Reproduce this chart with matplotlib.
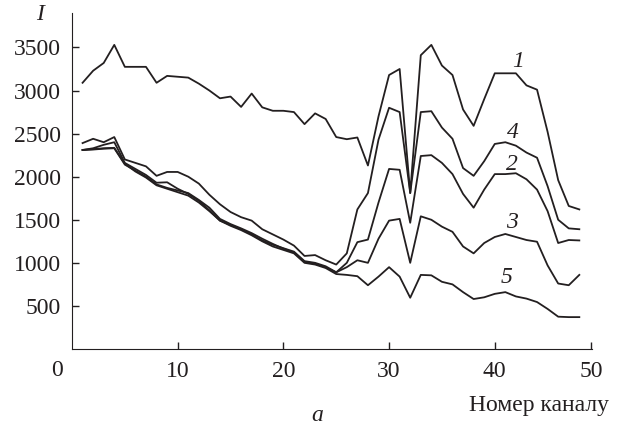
import numpy as np
import matplotlib.pyplot as plt

plt.rcParams['font.family'] = ['Liberation Serif', 'DejaVu Serif']

# номери каналів
channels = np.arange(1, 49)

# криві 1-5
curve1 = [3090, 3230, 3320, 3530, 3275, 3275, 3275, 3090, 3170, 3160,
          3150, 3080, 3000, 2910, 2930, 2810, 2965, 2805, 2765, 2765,
          2750, 2610, 2735, 2670, 2460, 2435, 2455, 2130, 2700, 3180,
          3250, 1810, 3410, 3530, 3290, 3180, 2780, 2590, 2900, 3200,
          3200, 3200, 3060, 3010, 2520, 1960, 1660, 1620]
curve4 = [2390, 2440, 2400, 2460, 2200, 2160, 2120, 2010, 2055, 2055,
          2000, 1920, 1790, 1680, 1590, 1530, 1490, 1390, 1330, 1270,
          1200, 1080, 1090, 1030, 980, 1110, 1620, 1810, 2430, 2800,
          2750, 1810, 2750, 2760, 2570, 2440, 2100, 2010, 2180, 2380,
          2400, 2360, 2280, 2220, 1890, 1500, 1400, 1390]
curve2 = [2310, 2330, 2370, 2400, 2160, 2090, 2020, 1930, 1935, 1860,
          1800, 1720, 1610, 1490, 1440, 1390, 1330, 1260, 1210, 1170,
          1130, 1020, 1000, 960, 890, 1000, 1240, 1270, 1700, 2090,
          2080, 1465, 2240, 2250, 2160, 2030, 1800, 1640, 1850, 2030,
          2030, 2040, 1970, 1850, 1600, 1230, 1265, 1260]
curve3 = [2310, 2315, 2325, 2330, 2140, 2070, 2000, 1910, 1870, 1840,
          1810, 1730, 1640, 1510, 1450, 1400, 1345, 1280, 1220, 1165,
          1120, 1010, 990, 950, 890, 950, 1030, 1000, 1280, 1490,
          1510, 1000, 1540, 1500, 1420, 1360, 1190, 1110, 1230, 1300,
          1335, 1300, 1265, 1245, 970, 760, 740, 860]
curve5 = [2310, 2320, 2330, 2335, 2150, 2060, 1990, 1900, 1860, 1820,
          1780, 1700, 1600, 1490, 1430, 1380, 1320, 1250, 1190, 1150,
          1110, 1000, 980, 940, 870, 860, 845, 740, 840, 950,
          840, 595, 860, 855, 780, 750, 660, 580, 600, 640,
          660, 610, 585, 545, 465, 375, 370, 370]

y_ticks = [500, 1000, 1500, 2000, 2500, 3000, 3500]
x_ticks = [10, 20, 30, 40, 49.1]
x_tick_labels = ['10', '20', '30', '40', '50']

fig = plt.figure(figsize=(6.25, 4.29), dpi=100)
ax = fig.add_axes([0.1152, 0.1865, 0.832, 0.7832])

ink = '#231f20'
for y in [curve1, curve4, curve2, curve3, curve5]:
    ax.plot(channels, y, color=ink, linewidth=1.3, solid_joinstyle='round')

ax.set_xlim(0, 49.2)
ax.set_ylim(0, 3900)

ax.spines['top'].set_visible(False)
ax.spines['right'].set_visible(False)
ax.spines['left'].set_color(ink)
ax.spines['bottom'].set_color(ink)

ax.set_yticks(y_ticks)
ax.set_xticks(x_ticks)
ax.set_xticklabels(x_tick_labels)
ax.tick_params(axis='both', direction='in', length=5, width=1, colors=ink,
               labelsize=17, labelcolor=ink)
ax.tick_params(axis='x', pad=9)
ax.tick_params(axis='y', pad=8)

# підписи кривих
curve_labels = ['1', '4', '2', '3', '5']
label_x = [42.2, 41.7, 41.6, 41.6, 41.1]
label_y = [3339, 2515, 2143, 1469, 830]
for t, lx, ly in zip(curve_labels, label_x, label_y):
    ax.text(lx, ly, t, fontsize=17, style='italic', color=ink,
            ha='center', va='center')

# підписи осей
ax.text(-3.0, 3885, 'I', fontsize=17, style='italic', color=ink,
        ha='center', va='center', clip_on=False)
ax.text(-1.45, -250, '0', fontsize=17, color=ink,
        ha='center', va='center', clip_on=False)
ax.text(44.2, -660, 'Номер каналу', fontsize=17, color=ink,
        ha='center', va='center', clip_on=False)
ax.text(23.2, -775, 'a', fontsize=17, style='italic', color=ink,
        ha='center', va='center', clip_on=False)

plt.savefig('out.png', dpi=100)
